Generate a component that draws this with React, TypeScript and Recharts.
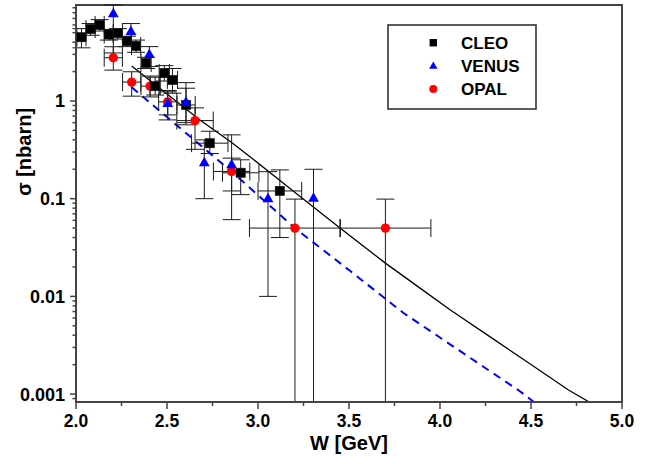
import React from 'react';
import { ComposedChart, XAxis, YAxis, Line, Scatter, ErrorBar, ReferenceArea, Legend, Label } from 'recharts';

// ---- axis ranges ----
const X_DOMAIN: [number, number] = [2, 5];
const Y_DOMAIN: [number, number] = [0.00083, 9.6];
const Y_FLOOR = Y_DOMAIN[0]; // error bars that run off the bottom of the plot
const Y_CEIL = Y_DOMAIN[1]; // error bars that run off the top of the plot

// ---- data ----
const cleoW = [2.03, 2.08, 2.13, 2.18, 2.23, 2.28, 2.33, 2.385, 2.435, 2.485, 2.53, 2.605, 2.735, 2.905, 3.12];
const cleoS = [4.5, 5.45, 6.0, 4.8, 4.95, 4.1, 3.65, 2.45, 1.42, 1.93, 1.64, 0.91, 0.37, 0.184, 0.12];
const cleoLo = [3.5, 4.7, 5.2, 4.2, 4.3, 3.6, 3.15, 2.15, 1.15, 1.6, 1.2, 0.6, 0.29, 0.11, 0.04];
const cleoHi = [5.5, 6.2, 6.8, 5.4, 5.5, 4.6, 4.2, 2.8, 1.75, 2.3, 2.15, 1.35, 0.49, 0.25, 0.197];
const cleoWErr = [0.025, 0.025, 0.025, 0.025, 0.025, 0.025, 0.025, 0.028, 0.028, 0.028, 0.028, 0.05, 0.1, 0.1, 0.12];

const venusW = [2.205, 2.302, 2.403, 2.504, 2.604, 2.705, 2.855, 3.055, 3.305];
const venusS = [7.9, 5.2, 3.02, 0.95, 0.98, 0.236, 0.225, 0.101, 0.102];
const venusLo = [3.1, 4.0, 2.25, 0.64, 0.57, 0.1, 0.061, 0.01, Y_FLOOR];
const venusHi = [Y_CEIL, 6.2, 3.6, 1.24, 1.54, 0.4, 0.45, 0.189, 0.2];

const opalW = [2.205, 2.306, 2.407, 2.504, 2.654, 2.855, 3.203, 3.7];
const opalS = [2.77, 1.56, 1.42, 0.98, 0.63, 0.19, 0.05, 0.05];
const opalLo = [2.07, 1.12, 1.1, 0.72, 0.32, 0.12, Y_FLOOR, Y_FLOOR];
const opalHi = [3.59, 1.99, 1.8, 1.28, 0.85, 0.26, 0.099, 0.099];
const opalWErr = [0.05, 0.05, 0.05, 0.05, 0.1, 0.1, 0.25, 0.25];

const solidW = [2.306, 2.5, 2.681, 2.855, 2.956, 3.2, 3.454, 3.7, 3.9, 4.055, 4.3, 4.5, 4.706, 4.82];
const solidS = [2.28, 1.18, 0.64, 0.375, 0.269, 0.117, 0.0494, 0.0219, 0.0118, 0.0073, 0.00359, 0.00201, 0.0011, 0.00083];

const dashW = [2.306, 2.5, 2.791, 2.938, 3.203, 3.5, 3.8, 4.1, 4.43, 4.516];
const dashS = [1.38, 0.684, 0.239, 0.138, 0.0499, 0.0186, 0.00675, 0.00284, 0.0011, 0.00083];

const xMajorTicks = [2, 2.5, 3, 3.5, 4, 4.5, 5];
const xMinorTicks = [2.25, 2.75, 3.25, 3.75, 4.25, 4.75];
const yMajorTicks = [0.001, 0.01, 0.1, 1];
const yMinorMult = [2, 3, 4, 5, 6, 7, 8, 9];

const seriesNames = ['CLEO', 'VENUS', 'OPAL'];

// ---- derived tables ----
const cleo = cleoW.map((w, i) => ({ w, s: cleoS[i], ey: [cleoS[i] - cleoLo[i], cleoHi[i] - cleoS[i]], ex: cleoWErr[i] }));
const venus = venusW.map((w, i) => ({ w, s: venusS[i], ey: [venusS[i] - venusLo[i], venusHi[i] - venusS[i]] }));
const opal = opalW.map((w, i) => ({ w, s: opalS[i], ey: [opalS[i] - opalLo[i], opalHi[i] - opalS[i]], ex: opalWErr[i] }));
const solid = solidW.map((w, i) => ({ w, s: solidS[i] }));
const dashed = dashW.map((w, i) => ({ w, s: dashS[i] }));

const yMinorTicks = [0.0009, ...yMajorTicks.flatMap((d) => yMinorMult.map((m) => +(d * m).toPrecision(3)))].filter(
  (v) => v >= Y_DOMAIN[0] && v <= Y_DOMAIN[1]
);
const yTicks = [...yMinorTicks, ...yMajorTicks].sort((a, b) => a - b);
const xTicks = [...xMajorTicks, ...xMinorTicks].sort((a, b) => a - b);

const FONT = "'Liberation Sans', Arial, Helvetica, sans-serif";
const AXIS = '#444';
const ERR = '#1a1a1a';

const XTick = (p: any) => {
  const { x, y, payload } = p;
  const v = payload.value;
  const major = xMajorTicks.includes(v);
  return (
    <g>
      <line x1={x} x2={x} y1={y} y2={y + (major ? 7 : 4)} stroke={AXIS} strokeWidth={1.5} />
      {major && (
        <text x={x} y={y + 25} textAnchor="middle" fontFamily={FONT} fontWeight="bold" fontSize={17.5} fill="#000">
          {v.toFixed(1)}
        </text>
      )}
    </g>
  );
};

const YTick = (p: any) => {
  const { x, y, payload } = p;
  const v = payload.value;
  const major = yMajorTicks.includes(v);
  return (
    <g>
      <line x1={x} x2={x - (major ? 6 : 3.5)} y1={y} y2={y} stroke={AXIS} strokeWidth={1.5} />
      {major && (
        <text x={x - 11} y={y + 6.5} textAnchor="end" fontFamily={FONT} fontWeight="bold" fontSize={18} fill="#000">
          {String(v)}
        </text>
      )}
    </g>
  );
};

const SquareShape = (p: any) => {
  const { cx, cy } = p;
  if (cx == null || cy == null) return <g />;
  return <rect x={cx - 4.7} y={cy - 4.7} width={9.4} height={9.4} fill="#000" stroke="#222" strokeWidth={0.5} />;
};
const TriangleShape = (p: any) => {
  const { cx, cy } = p;
  if (cx == null || cy == null) return <g />;
  return <polygon points={`${cx},${cy - 5.6} ${cx + 5.4},${cy + 3.9} ${cx - 5.4},${cy + 3.9}`} fill="#0000ff" />;
};
const CircleShape = (p: any) => {
  const { cx, cy } = p;
  if (cx == null || cy == null) return <g />;
  return <circle cx={cx} cy={cy} r={4.7} fill="#ff0000" />;
};

const LegendBox = () => {
  const rows = [18.7, 41.7, 65];
  const sx = 46.3;
  return (
    <svg width={150} height={87} style={{ display: 'block' }}>
      <rect x={1} y={1} width={148} height={84} fill="#fff" stroke="#333" strokeWidth={1.6} />
      <rect x={sx - 3.7} y={rows[0] - 3.7} width={7.4} height={7.4} fill="#000" />
      <polygon points={`${sx},${rows[1] - 4.3} ${sx + 4.2},${rows[1] + 3} ${sx - 4.2},${rows[1] + 3}`} fill="#0000ff" />
      <circle cx={sx} cy={rows[2]} r={4} fill="#ff0000" />
      {seriesNames.map((n, i) => (
        <text key={n} x={74} y={rows[i] + 6.3} fontFamily={FONT} fontWeight="bold" fontSize={17} fill="#000">
          {n}
        </text>
      ))}
    </svg>
  );
};

export default function App() {
  return (
    <div style={{ position: 'absolute', left: 0, top: 0, width: 658, height: 464, background: '#fff' }}>
      <ComposedChart width={658} height={464} margin={{ top: 5, right: 36, bottom: 0, left: 0 }}>
        <XAxis
          type="number"
          dataKey="w"
          domain={X_DOMAIN}
          ticks={xTicks}
          interval={0}
          allowDataOverflow
          height={62}
          tickSize={0}
          tickMargin={0}
          tickLine={false}
          axisLine={{ stroke: AXIS, strokeWidth: 2 }}
          tick={(p: any) => <XTick {...p} />}
        >
          <Label
            content={(lp: any) => {
              const vb = lp.viewBox;
              return (
                <text x={vb.x + vb.width / 2} y={vb.y + 48} textAnchor="middle" fontFamily={FONT} fontWeight="bold" fontSize={20} fill="#000">
                  W [GeV]
                </text>
              );
            }}
          />
        </XAxis>
        <YAxis
          type="number"
          dataKey="s"
          scale="log"
          domain={Y_DOMAIN}
          ticks={yTicks}
          interval={0}
          allowDataOverflow
          width={76}
          tickSize={0}
          tickMargin={0}
          tickLine={false}
          axisLine={{ stroke: AXIS, strokeWidth: 2 }}
          tick={(p: any) => <YTick {...p} />}
        >
          <Label
            content={(lp: any) => {
              const vb = lp.viewBox;
              const cx = vb.x + 24;
              const cy = vb.y + 147;
              return (
                <text
                  x={cx}
                  y={cy}
                  transform={`rotate(-90 ${cx} ${cy})`}
                  textAnchor="middle"
                  dominantBaseline="central"
                  fontFamily={FONT}
                  fontWeight="bold"
                  fontSize={20}
                  fill="#000"
                >
                  σ [nbarn]
                </text>
              );
            }}
          />
        </YAxis>
        <Line data={solid} dataKey="s" type="linear" stroke="#000" strokeWidth={1.3} dot={false} activeDot={false} isAnimationActive={false} />
        <Line data={dashed} dataKey="s" type="linear" stroke="#0000ff" strokeWidth={2} strokeDasharray="8 6" dot={false} activeDot={false} isAnimationActive={false} />
        <Scatter data={opal} dataKey="s" shape={(p: any) => <CircleShape {...p} />} isAnimationActive={false}>
          <ErrorBar dataKey="ey" direction="y" width={9} stroke={ERR} strokeWidth={1} />
          <ErrorBar dataKey="ex" direction="x" width={9} stroke={ERR} strokeWidth={1} />
        </Scatter>
        <Scatter data={cleo} dataKey="s" shape={(p: any) => <SquareShape {...p} />} isAnimationActive={false}>
          <ErrorBar dataKey="ey" direction="y" width={9} stroke={ERR} strokeWidth={1} />
          <ErrorBar dataKey="ex" direction="x" width={9} stroke={ERR} strokeWidth={1} />
        </Scatter>
        <Scatter data={venus} dataKey="s" shape={(p: any) => <TriangleShape {...p} />} isAnimationActive={false}>
          <ErrorBar dataKey="ey" direction="y" width={9} stroke={ERR} strokeWidth={1} />
        </Scatter>
        <ReferenceArea x1={X_DOMAIN[0]} x2={X_DOMAIN[1]} y1={Y_DOMAIN[0]} y2={Y_DOMAIN[1]} fill="none" fillOpacity={0} stroke={AXIS} strokeWidth={2} ifOverflow="visible" />
        <Legend
          layout="vertical"
          align="center"
          verticalAlign="middle"
          wrapperStyle={{ left: 387, top: 24, width: 150, height: 87 }}
          content={() => <LegendBox />}
        />
      </ComposedChart>
    </div>
  );
}
